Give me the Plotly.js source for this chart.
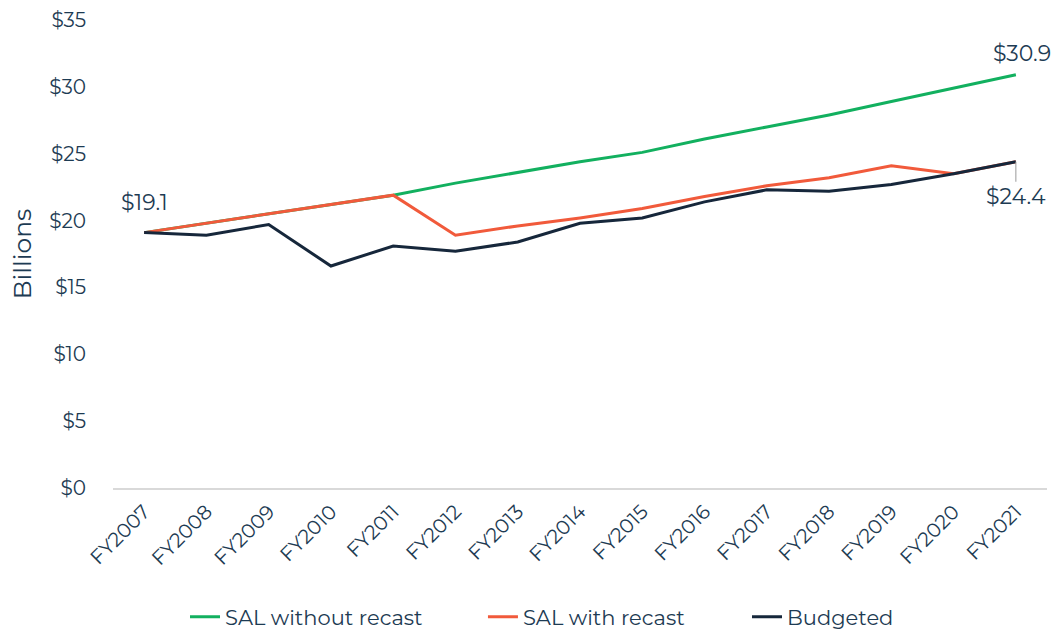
<!DOCTYPE html>
<html><head><meta charset="utf-8">
<script src="https://cdn.plot.ly/plotly-3.0.1.min.js"></script>
<style>html,body{margin:0;padding:0;background:#fff}#chart{width:1054px;height:630px}</style>
</head><body><div id="chart"></div>
<script>
const years = ["FY2007","FY2008","FY2009","FY2010","FY2011","FY2012","FY2013","FY2014","FY2015","FY2016","FY2017","FY2018","FY2019","FY2020","FY2021"];
const salWithoutRecast = [19.1,19.8,20.5,21.2,21.9,22.8,23.6,24.4,25.1,26.1,27.0,27.9,28.9,29.9,30.9];
const salWithRecast = [19.1,19.8,20.5,21.2,21.9,18.9,19.6,20.2,20.9,21.8,22.6,23.2,24.1,23.5,24.4];
const budgeted = [19.1,18.9,19.7,16.6,18.1,17.7,18.4,19.8,20.2,21.4,22.3,22.2,22.7,23.5,24.4];
const yTicks = [0,5,10,15,20,25,30,35];
const yTickLabels = ["$0","$5","$10","$15","$20","$25","$30","$35"];

const fontFam = "Montserrat, 'Noto Sans', 'Open Sans', sans-serif";
const txt = "#1d3b53";
const traces = [
  {x: years, y: salWithoutRecast, name: "SAL without recast", mode: "lines", line: {color: "#12b05f", width: 3}, legend: "legend"},
  {x: years, y: salWithRecast, name: "SAL with recast", mode: "lines", line: {color: "#f15a3b", width: 3}, legend: "legend2"},
  {x: years, y: budgeted, name: "Budgeted", mode: "lines", line: {color: "#16273b", width: 3}, legend: "legend3"}
];
const last = years.length - 1;
const legendBase = {orientation: "h", xanchor: "left", y: -0.276, yanchor: "middle", font: {size: 21, color: txt}, bgcolor: "rgba(0,0,0,0)"};
const layout = {
  width: 1054, height: 630,
  margin: {l: 113, r: 7, t: 20, b: 142, autoexpand: false},
  paper_bgcolor: "#fff", plot_bgcolor: "#fff",
  font: {family: fontFam, color: txt, size: 19},
  showlegend: true,
  legend: Object.assign({}, legendBase, {x: 0.0771}),
  legend2: Object.assign({}, legendBase, {x: 0.3961}),
  legend3: Object.assign({}, legendBase, {x: 0.6788}),
  xaxis: {type: "category", range: [-0.5, 14.5], tickangle: -45, automargin: false, showgrid: false, showline: true, linecolor: "#d9d9d9", linewidth: 2, ticks: "", tickfont: {size: 20, color: txt}, zeroline: false, ticklabelstandoff: 2},
  yaxis: {range: [0, 35], tickvals: yTicks, ticktext: yTickLabels, automargin: false, showgrid: false, zeroline: false, showline: false, ticks: "", tickfont: {size: 20, color: txt}, ticklabelstandoff: 26,
          title: {text: "Billions", font: {size: 25, color: txt}, standoff: 10}},
  annotations: [
    {x: years[0], y: salWithoutRecast[0], text: "$19.1", showarrow: false, yshift: 30, xshift: 0, font: {size: 22, color: txt}},
    {x: years[last], y: salWithoutRecast[last], text: "$30.9", showarrow: false, yshift: 21, xshift: 6, font: {size: 22, color: txt}},
    {x: years[last], y: salWithRecast[last], text: "$24.4", showarrow: true, arrowhead: 0, arrowwidth: 1, arrowcolor: "#999", ax: 0, ay: 35, font: {size: 22, color: txt}}
  ]
};
Plotly.newPlot("chart", traces, layout, {displayModeBar: false});
</script></body></html>
